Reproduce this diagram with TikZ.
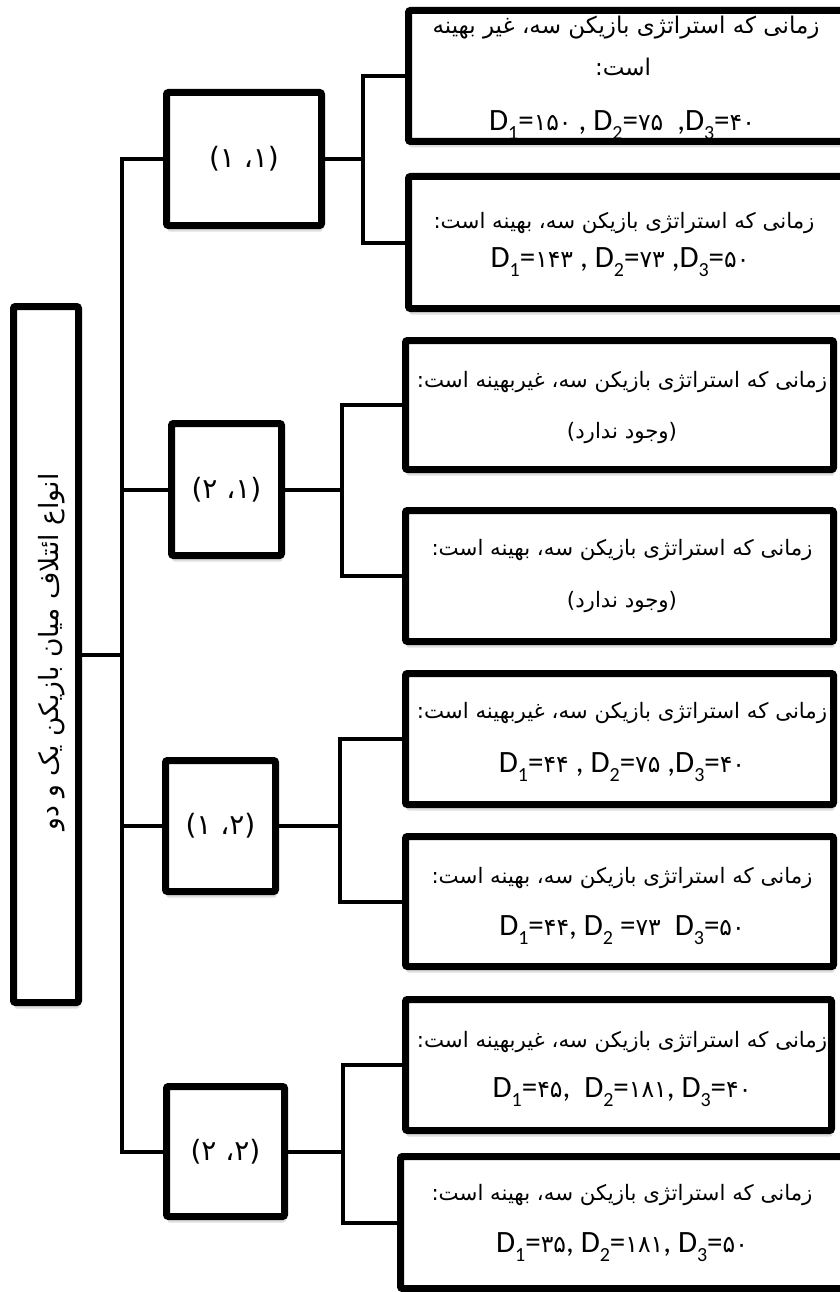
\documentclass[tikz,border=0pt]{standalone}
\usepackage{fontspec}
\setmainfont{Carlito}
\newfontfamily\fa[Script=Arabic]{DejaVu Sans}
\TeXXeTstate=1
\usetikzlibrary{shadows,calc}
\newcommand\dsub[1]{\raisebox{-0.3em}{\fontsize{20}{20}\selectfont #1}}
\newcommand\pd[1]{{\fa\fontsize{23.5}{23.5}\selectfont #1}}
\begin{document}
\begin{tikzpicture}[x=1pt,y=-1pt,
  box/.style={draw, line width=7pt, rounded corners=2pt, fill=white, inner sep=0pt, outer sep=0pt,
    drop shadow={shadow xshift=1pt, shadow yshift=-6pt, fill=black!25}},
  conn/.style={line width=4pt},
  ptxt/.style={font=\fa\fontsize{21.3}{25}\selectfont, inner sep=0pt},
  dtxt/.style={font=\fontsize{31}{34}\selectfont, inner sep=0pt},
  mtxt/.style={font=\fa\fontsize{28}{32}\selectfont, inner sep=0pt}]
\useasboundingbox (0,0) rectangle (839,1292);

% main box
\node[box, minimum width=65pt, minimum height=696pt] (main) at (46,654.5) {};
% middle boxes
\node[box, minimum width=155pt, minimum height=133pt] (m1) at (244,159) {};
\node[box, minimum width=110pt, minimum height=132pt] (m2) at (226.5,489.5) {};
\node[box, minimum width=110pt, minimum height=131pt] (m3) at (220.5,826) {};
\node[box, minimum width=118pt, minimum height=130pt] (m4) at (225.5,1151.5) {};
% right boxes
\node[box, minimum width=436pt, minimum height=131pt] (r1a) at (626.5,76) {};
\node[box, minimum width=436pt, minimum height=132pt] (r1b) at (626.5,242.5) {};
\node[box, minimum width=428pt, minimum height=129pt] (r2a) at (619.5,405) {};
\node[box, minimum width=428pt, minimum height=131pt] (r2b) at (619.5,576) {};
\node[box, minimum width=428pt, minimum height=131pt] (r3a) at (619.5,739) {};
\node[box, minimum width=428pt, minimum height=130pt] (r3b) at (619.5,901.5) {};
\node[box, minimum width=426pt, minimum height=131pt] (r4a) at (618.5,1065) {};
\node[box, minimum width=444pt, minimum height=132pt] (r4b) at (622.5,1222.5) {};

% trunk and brackets
\coordinate (tk) at (122,0);
\coordinate (b1) at (363,0);
\coordinate (b2) at (342,0);
\coordinate (b3) at (340,0);
\coordinate (b4) at (343,0);
\draw[conn] (m1.west) -| (tk |- m4.west) -- (m4.west);
\draw[conn] (m2.west) -- (tk |- m2.west);
\draw[conn] (m3.west) -- (tk |- m3.west);
\draw[conn] (main.east) -- (tk |- main.east);
\draw[conn] (m1.east) -- (b1 |- m1.east);
\draw[conn] (r1a.west) -| (b1 |- m1.east) |- (r1b.west);
\draw[conn] (m2.east) -- (b2 |- m2.east);
\draw[conn] (r2a.west) -| (b2 |- m2.east) |- (r2b.west);
\draw[conn] (m3.east) -- (b3 |- m3.east);
\draw[conn] (r3a.west) -| (b3 |- m3.east) |- (r3b.west);
\draw[conn] (m4.east) -- (b4 |- m4.east);
\draw[conn] (r4a.west) -| (b4 |- m4.east) |- (r4b.west);

% labels
\node[rotate=90, font=\fa\fontsize{26.5}{30}\selectfont, inner sep=0pt] (mainlbl) at (52,652) {\beginR انواع ائتلاف میان بازیکن یک و دو\endR};
\node[mtxt] (m1t) at (m1.center) {\beginR (۱، ۱)\endR};
\node[mtxt] (m2t) at (m2.center) {\beginR (۱، ۲)\endR};
\node[mtxt] (m3t) at (m3.center) {\beginR (۲، ۱)\endR};
\node[mtxt] (m4t) at (m4.center) {\beginR (۲، ۲)\endR};

\node[ptxt, font=\fa\fontsize{23}{26}\selectfont] (t1a1) at (626,28) {\beginR زمانی که استراتژی بازیکن سه، غیر بهینه\endR};
\node[ptxt, font=\fa\fontsize{23}{26}\selectfont] (t1a2) at (623,67) {\beginR است:\endR};
\node[dtxt] (t1a3) at (622,125) {D\dsub{1}=\pd{۱۵۰} , D\dsub{2}=\pd{۷۵}\ \ ,D\dsub{3}=\pd{۴۰}};

\node[ptxt] (t1b1) at (624,223) {\beginR زمانی که استراتژی بازیکن سه، بهینه است:\endR};
\node[dtxt] (t1b2) at (620,262) {D\dsub{1}=\pd{۱۴۳} , D\dsub{2}=\pd{۷۳} ,D\dsub{3}=\pd{۵۰}};

\node[ptxt] (t2a1) at (622,382) {\beginR زمانی که استراتژی بازیکن سه، غیربهینه است:\endR};
\node[ptxt] (t2a2) at (622,433) {\beginR (وجود ندارد)\endR};

\node[ptxt] (t2b1) at (622,550) {\beginR زمانی که استراتژی بازیکن سه، بهینه است:\endR};
\node[ptxt] (t2b2) at (622,602) {\beginR (وجود ندارد)\endR};

\node[ptxt] (t3a1) at (622,713) {\beginR زمانی که استراتژی بازیکن سه، غیربهینه است:\endR};
\node[dtxt] (t3a2) at (622,767) {D\dsub{1}=\pd{۴۴} , D\dsub{2}=\pd{۷۵} ,D\dsub{3}=\pd{۴۰}};

\node[ptxt] (t3b1) at (622,878) {\beginR زمانی که استراتژی بازیکن سه، بهینه است:\endR};
\node[dtxt] (t3b2) at (622,930) {D\dsub{1}=\pd{۴۴}, D\dsub{2} =\pd{۷۳}\ \ D\dsub{3}=\pd{۵۰}};

\node[ptxt] (t4a1) at (622,1042) {\beginR زمانی که استراتژی بازیکن سه، غیربهینه است:\endR};
\node[dtxt] (t4a2) at (622,1092) {D\dsub{1}=\pd{۴۵},\ \ D\dsub{2}=\pd{۱۸۱}, D\dsub{3}=\pd{۴۰}};

\node[ptxt] (t4b1) at (622,1195) {\beginR زمانی که استراتژی بازیکن سه، بهینه است:\endR};
\node[dtxt] (t4b2) at (622,1247) {D\dsub{1}=\pd{۳۵}, D\dsub{2}=\pd{۱۸۱}, D\dsub{3}=\pd{۵۰}};
\end{tikzpicture}
\end{document}
